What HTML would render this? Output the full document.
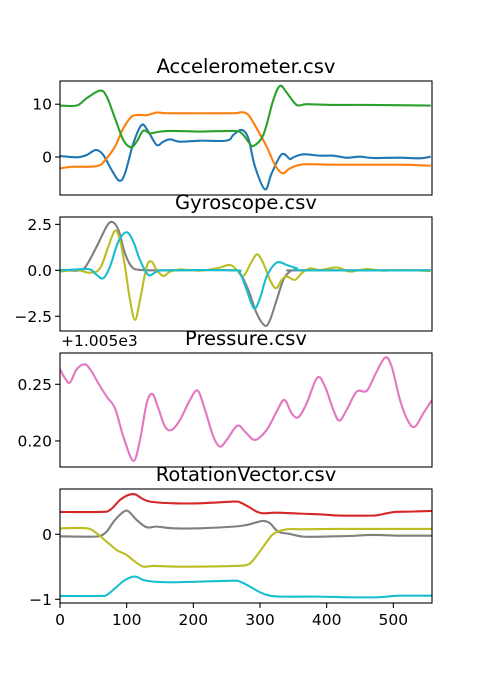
<!DOCTYPE html>
<html><head><meta charset="utf-8"><style>
html,body{margin:0;padding:0;background:#fff}
svg{display:block;font-family:"DejaVu Sans","Liberation Sans",sans-serif}
</style></head><body>
<svg id="fig" width="480" height="677" viewBox="0 0 480 677" xmlns="http://www.w3.org/2000/svg">
<rect width="480" height="677" fill="#fff"/>
</svg>
<script>
const xTicks=[0,100,200,300,400,500];
const accX=[[0,0.19],[25,-0.06],[40,0.38],[54,1.33],[65,0.38],[77.5,-2.47],[89,-4.49],[97.5,-3.1],[110,2.59],[122.5,6.08],[132.5,4.81],[145,2.28],[155,2.91],[165,3.35],[180,2.91],[210,3.1],[250,3.1],[260,4.18],[272.5,5.13],[282.5,3.54],[292.5,-1.84],[307.5,-6.14],[317.5,-3.1],[332.5,0.51],[345,-0.38],[350,-0.06],[365,0.51],[390,0.25],[410,0.25],[430,-0.13],[450,0.06],[470,-0.19],[510,-0.13],[540,-0.25],[556,0.06]];
const accY=[[0,-2.15],[20,-1.84],[45,-1.84],[60,-1.52],[70,-0.25],[82.5,1.96],[95,5.44],[107.5,7.66],[120,7.97],[130,7.91],[145,8.42],[160,8.29],[210,8.29],[260,8.29],[272.5,8.48],[282.5,7.97],[295,5.44],[310,1.96],[322.5,-1.52],[334,-3.1],[345,-2.15],[365,-1.39],[410,-1.46],[510,-1.46],[556,-1.65]];
const accZ=[[0,9.75],[25,9.75],[40,11.14],[60,12.59],[70,11.46],[82.5,7.34],[95,3.23],[106.5,1.84],[115,2.91],[125,5.0],[135,4.49],[150,4.81],[170,4.94],[210,4.81],[260,4.94],[272.5,4.49],[282.5,2.91],[290,2.09],[305,4.18],[320,10.82],[330,13.48],[340,12.22],[355,9.87],[370,10.0],[410,9.87],[460,9.87],[556,9.75]];
const gyrA=[[0,0],[30,0],[40,0.29],[55,1.29],[70,2.39],[78.5,2.63],[87.5,2.21],[97.5,0.92],[107.5,0.2],[120,0.02],[160,0],[260,0],[270,-0.16],[282.5,-1.07],[295,-2.34],[307.5,-3.01],[315,-2.7],[325,-1.61],[335,-0.52],[345,-0.07],[360,0],[556,0]];
const gyrB=[[0,-0.07],[25,0.02],[45,-0.13],[60,0.11],[72.5,1.29],[82.5,2.16],[90,1.65],[97.5,0.2],[105,-1.61],[112.5,-2.7],[120,-1.61],[130,0.2],[137.5,0.47],[145,0.02],[155,-0.31],[165,-0.07],[180,0.05],[210,-0.02],[235,0.11],[255,0.29],[265,0.02],[275,-0.31],[287.5,0.47],[296,0.87],[305,0.38],[315,-0.52],[324,-0.98],[332.5,-0.52],[340,-0.34],[352.5,-0.52],[362.5,-0.16],[375,0.11],[390,0.02],[415,0.16],[435,-0.07],[460,0.07],[485,-0.02],[510,0.02],[556,-0.04]];
const gyrC=[[0,0],[25,0.05],[45,0.05],[55,-0.25],[65,-0.43],[75,0.2],[87.5,1.56],[100,2.07],[110,1.56],[120,0.56],[132.5,-0.25],[145,-0.07],[160,0],[260,0],[270,-0.16],[280,-1.07],[291,-2.07],[300,-1.52],[310,-0.34],[325,0.42],[340,0.29],[355,0.11],[370,0],[556,0]];
const pres=[[0,0.2632],[7.5,0.2553],[15,0.2515],[25,0.2632],[37.5,0.2676],[47.5,0.2612],[57.5,0.2509],[70,0.2391],[82.5,0.2288],[95,0.2038],[110,0.1824],[120,0.2009],[130,0.2332],[138.5,0.2415],[147.5,0.2288],[157.5,0.2126],[167.5,0.2097],[180,0.2185],[195,0.2362],[206.5,0.2444],[217.5,0.2274],[230,0.2038],[240,0.1950],[250,0.2009],[266,0.2135],[277.5,0.2082],[292.5,0.2009],[310,0.2097],[325,0.2259],[336.5,0.2362],[347.5,0.2244],[357.5,0.2209],[370,0.2332],[386,0.2559],[397.5,0.2479],[410,0.2274],[419,0.2179],[430,0.2274],[445,0.2435],[460,0.2441],[472.5,0.2582],[487.5,0.2735],[497.5,0.2656],[510,0.2362],[522.5,0.2171],[532.5,0.2126],[545,0.2244],[558,0.2362]];
const rotR=[[0,0.344],[60,0.344],[75,0.374],[90,0.528],[102.5,0.605],[112.5,0.615],[122.5,0.554],[135,0.503],[170,0.477],[210,0.477],[260,0.503],[270,0.492],[282.5,0.426],[295,0.349],[305,0.323],[325,0.333],[360,0.318],[390,0.308],[410,0.292],[430,0.287],[460,0.287],[475,0.292],[490,0.323],[502.5,0.344],[525,0.349],[558,0.359]];
const rotG=[[0,-0.031],[45,-0.036],[60,-0.026],[70,0.041],[82.5,0.221],[97.5,0.359],[105,0.333],[115,0.221],[130,0.108],[145,0.118],[170,0.092],[210,0.092],[260,0.118],[280,0.144],[295,0.185],[305,0.205],[315,0.169],[327.5,0.041],[345,0.005],[365,-0.036],[390,-0.036],[435,-0.026],[470,-0.010],[510,-0.021],[558,-0.021]];
const rotO=[[0,0.092],[40,0.092],[55,0.015],[70,-0.113],[85,-0.241],[100,-0.318],[112.5,-0.421],[125,-0.497],[140,-0.487],[170,-0.497],[210,-0.497],[260,-0.487],[280,-0.472],[290,-0.395],[305,-0.190],[320,0.005],[340,0.077],[360,0.077],[410,0.082],[460,0.082],[558,0.082]];
const rotC=[[0,-0.949],[60,-0.949],[70,-0.933],[82.5,-0.831],[97.5,-0.703],[112.5,-0.651],[125,-0.703],[140,-0.728],[170,-0.738],[210,-0.728],[260,-0.713],[270,-0.728],[285,-0.805],[300,-0.892],[315,-0.944],[335,-0.959],[385,-0.959],[435,-0.969],[475,-0.969],[495,-0.954],[510,-0.944],[558,-0.944]];

const NS='http://www.w3.org/2000/svg';
const svg=document.getElementById('fig');
const X0=60,X1=432,XMAX=558;
function sx(v){return X0+v/XMAX*(X1-X0);}
function mk(tag,attrs,parent){const e=document.createElementNS(NS,tag);for(const k in attrs)e.setAttribute(k,attrs[k]);(parent||svg).appendChild(e);return e;}
function smooth(pts){let d='M'+pts[0][0].toFixed(2)+','+pts[0][1].toFixed(2);
 for(let i=0;i<pts.length-1;i++){const p0=pts[Math.max(i-1,0)],p1=pts[i],p2=pts[i+1],p3=pts[Math.min(i+2,pts.length-1)];
 const c1=[p1[0]+(p2[0]-p0[0])/6,p1[1]+(p2[1]-p0[1])/6],c2=[p2[0]-(p3[0]-p1[0])/6,p2[1]-(p3[1]-p1[1])/6];
 d+=' C'+c1[0].toFixed(2)+','+c1[1].toFixed(2)+' '+c2[0].toFixed(2)+','+c2[1].toFixed(2)+' '+p2[0].toFixed(2)+','+p2[1].toFixed(2);}
 return d;}
const panels=[
 {name:'accelerometer',title:'Accelerometer.csv',top:81,bot:195,ymin:-7.2,ymax:14.4,yt:[0,10],yl:['0','10'],series:[[accX,'#1f77b4','accel-x-line'],[accY,'#ff7f0e','accel-y-line'],[accZ,'#2ca02c','accel-z-line']]},
 {name:'gyroscope',title:'Gyroscope.csv',top:217,bot:331,ymin:-3.3,ymax:2.9,yt:[-2.5,0,2.5],yl:['\u22122.5','0.0','2.5'],series:[[gyrA,'#7f7f7f','gyro-a-line'],[gyrB,'#bcbd22','gyro-b-line'],[gyrC,'#17becf','gyro-c-line']]},
 {name:'pressure',title:'Pressure.csv',top:353,bot:467,ymin:0.177,ymax:0.2776,yt:[0.20,0.25],yl:['0.20','0.25'],series:[[pres,'#e377c2','pressure-line']]},
 {name:'rotation-vector',title:'RotationVector.csv',top:489,bot:603,ymin:-1.057,ymax:0.697,yt:[-1,0],yl:['\u22121','0'],series:[[rotR,'#d62728','rot-red-line'],[rotG,'#7f7f7f','rot-gray-line'],[rotO,'#bcbd22','rot-olive-line'],[rotC,'#17becf','rot-cyan-line']]}
];
panels.forEach((p,pi)=>{
 const g=mk('g',{});
 
 
 const sy=v=>p.bot-(v-p.ymin)/(p.ymax-p.ymin)*(p.bot-p.top);
 const cid='clip'+pi;
 const cp=mk('clipPath',{id:cid},g);mk('rect',{x:X0,y:p.top,width:X1-X0,height:p.bot-p.top},cp);
 p.series.forEach(s=>{
  const path=mk('path',{d:smooth(s[0].map(q=>[sx(q[0]),sy(q[1])])),fill:'none',stroke:s[1],'stroke-width':2.1,'stroke-linejoin':'round','clip-path':'url(#'+cid+')'},g);
  
  
 });
 const fr=mk('rect',{x:X0,y:p.top,width:X1-X0,height:p.bot-p.top,fill:'none',stroke:'#000','stroke-width':1.1},g);
 
 
 p.yt.forEach((v,i)=>{const y=sy(v);
  mk('line',{x1:X0-4.9,x2:X0,y1:y,y2:y,stroke:'#000','stroke-width':1.1},g);
  const t=mk('text',{x:X0-8,y:y+5.5,'text-anchor':'end','font-size':15.5,fill:'#000'},g);t.textContent=p.yl[i];
  
  
 });
 const tt=mk('text',{x:(X0+X1)/2,y:p.top-8,'text-anchor':'middle','font-size':19.5,fill:'#000'},g);tt.textContent=p.title;
 
 
 if(p.name==='pressure'){const o=mk('text',{x:61,y:p.top-7,'font-size':15.5,fill:'#000'},g);o.textContent='+1.005e3';
  
  }
 if(pi===3){xTicks.forEach(v=>{const x=sx(v);
  mk('line',{x1:x,x2:x,y1:p.bot,y2:p.bot+4.9,stroke:'#000','stroke-width':1.1},g);
  const t=mk('text',{x:x,y:p.bot+22,'text-anchor':'middle','font-size':15.5,fill:'#000'},g);t.textContent=String(v);
  
  });}
});
</script>
</body></html>
